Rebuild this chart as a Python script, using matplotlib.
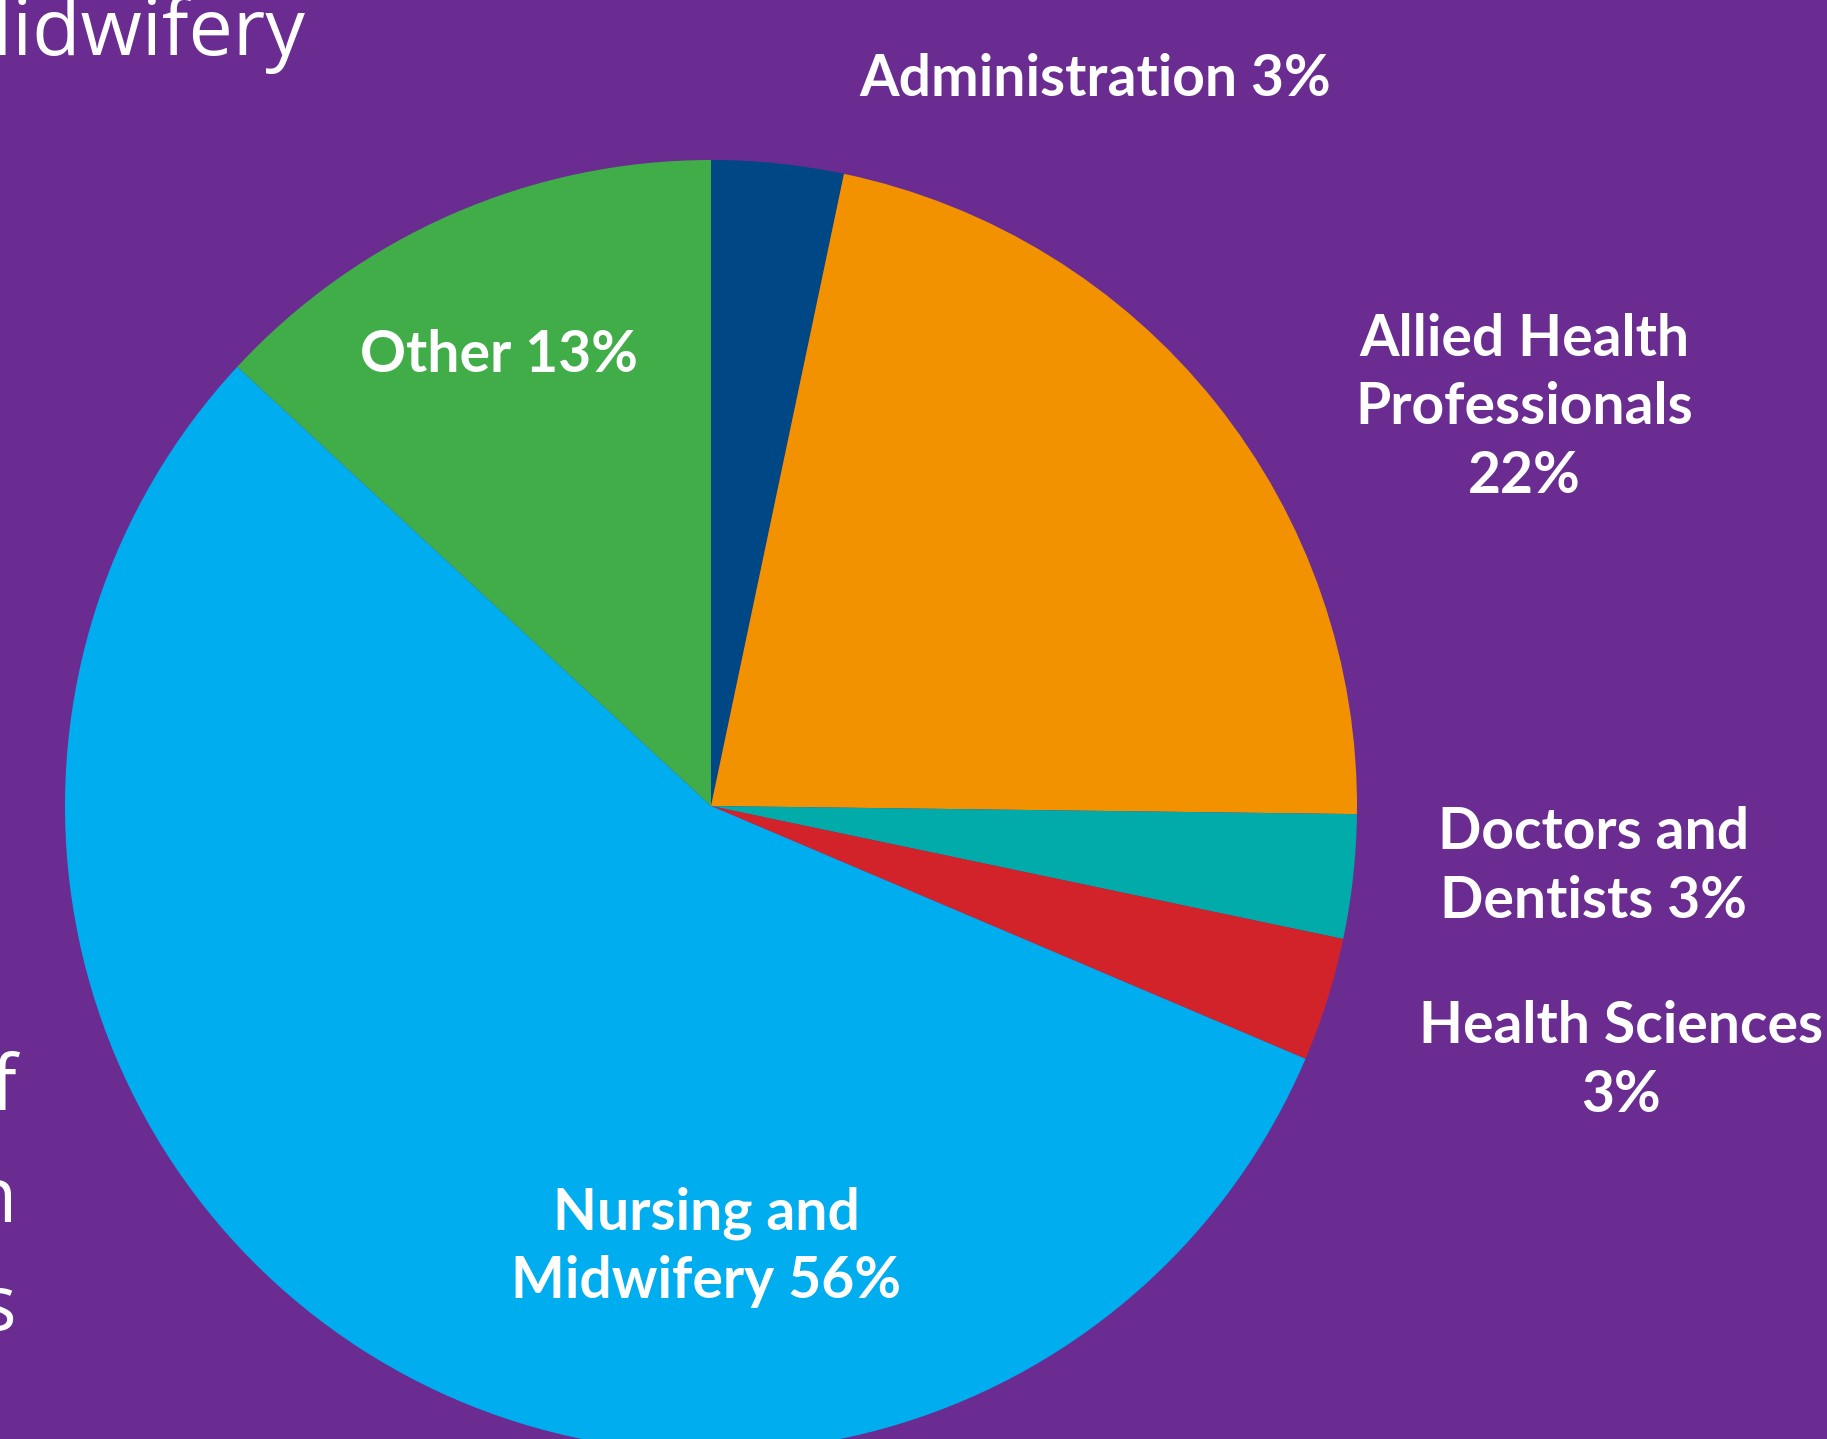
import matplotlib.pyplot as plt

# workforce share by staff group
groups = ['Administration', 'Allied Health Professionals', 'Doctors and Dentists',
          'Health Sciences', 'Nursing and Midwifery', 'Other']
shares = [3.3, 21.9, 3.1, 3.1, 55.5, 13.1]
labels = ['Administration 3%', 'Allied Health\nProfessionals\n22%', 'Doctors and\nDentists 3%',
          'Health Sciences\n3%', 'Nursing and\nMidwifery 56%', 'Other 13%']
colours = ['#004785', '#F39200', '#00ABAA', '#D2232A', '#00AEEF', '#41AD49']

# label positions in pixels from the top-left corner
label_xy = [(1095, 79), (1524, 408), (1594, 867), (1621, 1061), (706, 1247), (499, 355)]

bg = '#6A2C91'
W, H = 1827, 1439

fig = plt.figure(figsize=(W / 100, H / 100), dpi=100, facecolor=bg)
ax = fig.add_axes([0, 0, 1, 1])
ax.set_facecolor(bg)

ax.pie(shares, colors=colours, startangle=90, counterclock=False,
       center=(711, H - 806), radius=646, frame=True,
       wedgeprops={'linewidth': 0})
ax.set_xlim(0, W)
ax.set_ylim(0, H)
ax.set_aspect('equal')
ax.axis('off')

for lab, (x, y) in zip(labels, label_xy):
    ax.text(x, H - y, lab, ha='center', va='center', color='white',
            fontsize=41, fontweight='bold', family=['Lato', 'DejaVu Sans'],
            linespacing=1.35)

# bits of the surrounding infographic text, cut off by the crop
ax.text(305, H - 55, 'Midwifery', ha='right', va='baseline', color='white',
        fontsize=57, fontweight='normal', family=['Open Sans', 'DejaVu Sans'])
for s, y in zip(['of', 'in', 'ts'], [1110, 1222, 1330]):
    ax.text(17, H - y, s, ha='right', va='baseline', color='white',
            fontsize=55, fontweight='normal', family=['Open Sans', 'DejaVu Sans'])

fig.savefig('out.png', dpi=100, facecolor=bg)
